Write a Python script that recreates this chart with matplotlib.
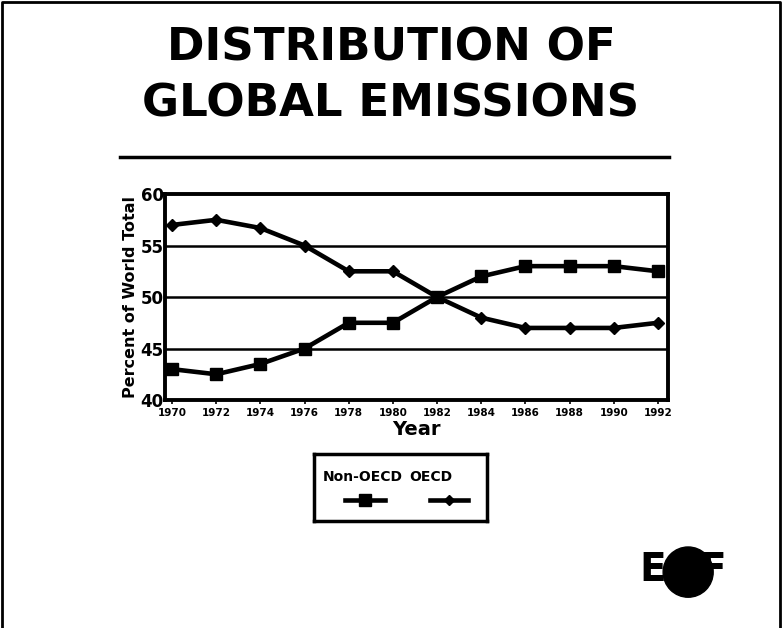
import matplotlib.pyplot as plt
from matplotlib.lines import Line2D
from matplotlib.patches import Ellipse

years = [1970, 1972, 1974, 1976, 1978, 1980, 1982, 1984, 1986, 1988, 1990, 1992]
non_oecd = [43, 42.5, 43.5, 45, 47.5, 47.5, 50, 52, 53, 53, 53, 52.5]
oecd = [57, 57.5, 56.7, 55, 52.5, 52.5, 50, 48, 47, 47, 47, 47.5]
yticks = [40, 45, 50, 55, 60]

plt.rcParams['font.family'] = ['DejaVu Sans']
heavy = 'bold'

fig = plt.figure(figsize=(7.82, 6.28), dpi=100)

# page frame (left, top, right)
fig.add_artist(Line2D([0.003, 0.003, 0.997, 0.997], [0.0, 0.997, 0.997, 0.0],
                      transform=fig.transFigure, color='black', lw=2))

fig.text(0.5, 0.923, 'DISTRIBUTION OF', ha='center', va='center',
         fontsize=32.5, fontweight=heavy)
fig.text(0.5, 0.835, 'GLOBAL EMISSIONS', ha='center', va='center',
         fontsize=32.5, fontweight=heavy)
fig.add_artist(Line2D([0.153, 0.855], [0.750, 0.750], transform=fig.transFigure,
                      color='black', lw=2.5))

ax = fig.add_axes([0.211, 0.363, 0.643, 0.328])
ax.plot(years, non_oecd, color='black', lw=3.3, marker='s', ms=9)
ax.plot(years, oecd, color='black', lw=3.3, marker='D', ms=6)
ax.set_xlim(1969.68, 1992.45)
ax.set_ylim(40, 60)
ax.set_xticks(years)
ax.set_xticklabels([str(y) for y in years], fontsize=7.5, fontweight=heavy)
ax.set_yticks(yticks)
ax.set_yticklabels([str(t) for t in yticks], fontsize=12, fontweight=heavy)
for t in [45, 50, 55]:
    ax.axhline(t, color='black', lw=1.8, zorder=0)
for s in ax.spines.values():
    s.set_linewidth(2.8)
ax.tick_params(axis='x', length=3, width=1.2, pad=3)
ax.tick_params(axis='y', length=0, pad=1)
ax.set_ylabel('Percent of World Total', fontsize=11.5, fontweight=heavy, labelpad=2)
ax.set_xlabel('Year', fontsize=14, fontweight=heavy, labelpad=1)

# legend box, labels above their line samples
lg = fig.add_axes([0.401, 0.170, 0.222, 0.107])
lg.set_xlim(0, 1)
lg.set_ylim(0, 1)
lg.set_xticks([])
lg.set_yticks([])
for s in lg.spines.values():
    s.set_linewidth(2.5)
lg.text(0.05, 0.66, 'Non-OECD', fontsize=10, fontweight=heavy, va='center')
lg.text(0.55, 0.66, 'OECD', fontsize=10, fontweight=heavy, va='center')
lg.plot([0.18, 0.41], [0.31, 0.31], color='black', lw=3.3)
lg.plot([0.295], [0.31], color='black', marker='s', ms=8)
lg.plot([0.67, 0.89], [0.31, 0.31], color='black', lw=3.3)
lg.plot([0.78], [0.31], color='black', marker='D', ms=5.5)

# emblem in the lower right
fig.text(0.835, 0.093, 'E', fontsize=28, fontweight=heavy, ha='center', va='center')
fig.text(0.912, 0.093, 'F', fontsize=28, fontweight=heavy, ha='center', va='center')
fig.add_artist(Ellipse((0.880, 0.089), 0.064, 0.080, transform=fig.transFigure,
                       color='black'))

fig.savefig('out.png', dpi=100)
